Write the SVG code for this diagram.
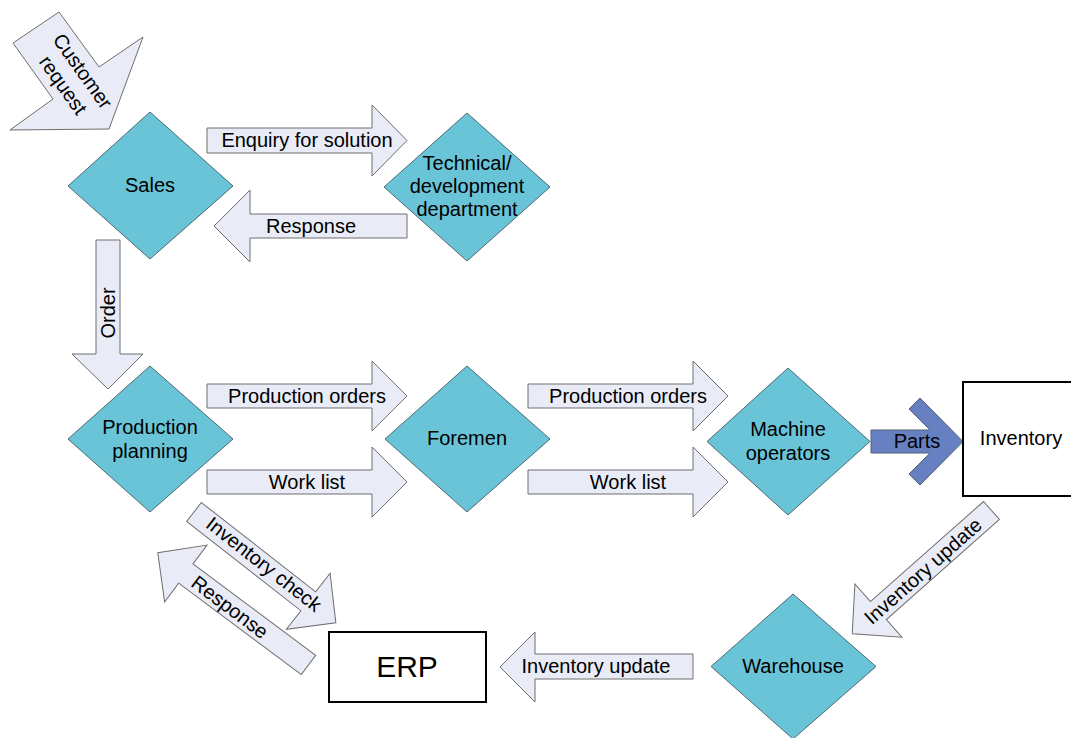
<svg xmlns="http://www.w3.org/2000/svg" width="1071" height="738" viewBox="0 0 1071 738">
  <style>
    .dia { fill: #6ac4d8; stroke: #4e6a72; stroke-width: 1; }
    .box { fill: #ffffff; stroke: #000000; stroke-width: 2; }
    .arr { fill: #e9ecf6; stroke: #6e6e6e; stroke-width: 1; }
    .parts { fill: #6680c2; stroke: #55607a; stroke-width: 1; }
    text { font-family: "Liberation Sans", Arial, sans-serif; font-size: 20px; fill: #000; text-anchor: middle; }
    .big { font-size: 30px; }
  </style>
  <defs>
    <!-- straight block arrow along +x, back end at origin -->
    <polygon id="arrow186" points="0,-12 151,-12 151,-35.5 186,0 151,35.5 151,12 0,12"/>
    <polygon id="arrow180" points="0,-12 145,-12 145,-35.5 180,0 145,35.5 145,12 0,12"/>
    <polygon id="arrow188" points="0,-12 153,-12 153,-35.5 188,0 153,35.5 153,12 0,12"/>
  </defs>
  <rect width="1071" height="738" fill="#ffffff"/>

  <g id="connectors">
    <!-- incoming customer request -->
    <g id="arrow-customer-request">
      <polygon class="arr" points="59,12 13,43 53,99 10,130 109,129 143,37 99,67"/>
      <g transform="translate(73,78) rotate(54.5)">
        <text x="0" y="-12" dy="0.35em">Customer</text>
        <text x="0" y="12" dy="0.35em">request</text>
      </g>
    </g>
    <g id="arrow-enquiry">
      <polygon class="arr" points="207,128 372,128 372,105 407,140.5 372,176 372,153 207,153"/>
      <text x="307" y="140" dy="0.35em">Enquiry for solution</text>
    </g>
    <g id="arrow-response-tech">
      <polygon class="arr" points="407,214 250,214 250,190 214,226 250,262 250,238 407,238"/>
      <text x="311" y="226" dy="0.35em">Response</text>
    </g>
    <g id="arrow-order">
      <polygon class="arr" points="96,240 120,240 120,354 143,354 108,389 72,354 96,354"/>
      <text transform="translate(108,313) rotate(-90)" dy="0.35em">Order</text>
    </g>
    <g id="arrow-prod-orders-1">
      <polygon class="arr" points="207,384 372,384 372,361 407,396 372,431 372,408 207,408"/>
      <text x="307" y="396" dy="0.35em">Production orders</text>
    </g>
    <g id="arrow-work-list-1">
      <polygon class="arr" points="207,470 372,470 372,447 407,482 372,517 372,494 207,494"/>
      <text x="307" y="482" dy="0.35em">Work list</text>
    </g>
    <g id="arrow-prod-orders-2">
      <polygon class="arr" points="528,384 693,384 693,361 728,396 693,431 693,408 528,408"/>
      <text x="628" y="396" dy="0.35em">Production orders</text>
    </g>
    <g id="arrow-work-list-2">
      <polygon class="arr" points="528,470 693,470 693,447 728,482 693,517 693,494 528,494"/>
      <text x="628" y="482" dy="0.35em">Work list</text>
    </g>
    <g id="arrow-parts">
      <polygon class="parts" points="871,430 930,430 909,409 920,398 963,441.5 920,485 909,474 930,453 871,453"/>
      <text x="917" y="441" dy="0.35em">Parts</text>
    </g>
    <g id="arrow-inventory-update-diag">
      <use href="#arrow186" class="arr" transform="translate(991.5,510.5) rotate(138.5)"/>
      <text transform="translate(923,571) rotate(-41.5)" dy="0.35em">Inventory update</text>
    </g>
    <g id="arrow-inventory-update-erp">
      <polygon class="arr" points="693,654 535,654 535,632 500,667 535,702 535,679 693,679"/>
      <text x="596" y="666" dy="0.35em">Inventory update</text>
    </g>
    <g id="arrow-inventory-check">
      <use href="#arrow180" class="arr" transform="translate(194,512) rotate(38)"/>
      <text transform="translate(264,564) rotate(38)" dy="0.35em">Inventory check</text>
    </g>
    <g id="arrow-response-erp">
      <use href="#arrow188" class="arr" transform="translate(308.5,665) rotate(216.7)"/>
      <text transform="translate(230,607) rotate(37)" dy="0.35em">Response</text>
    </g>
  </g>

  <g id="node-sales">
    <polygon class="dia" points="150,112 233,186 150,259 68,186"/>
    <text x="150" y="185" dy="0.35em">Sales</text>
  </g>
  <g id="node-technical">
    <polygon class="dia" points="467,113 550,187 467,261 384,187"/>
    <text x="467" y="163" dy="0.35em">Technical/</text>
    <text x="467" y="186" dy="0.35em">development</text>
    <text x="467" y="209" dy="0.35em">department</text>
  </g>
  <g id="node-production-planning">
    <polygon class="dia" points="150,366 233,439 150,512 68,439"/>
    <text x="150" y="427" dy="0.35em">Production</text>
    <text x="150" y="451" dy="0.35em">planning</text>
  </g>
  <g id="node-foremen">
    <polygon class="dia" points="467,366 550,439 467,512 385,439"/>
    <text x="467" y="438" dy="0.35em">Foremen</text>
  </g>
  <g id="node-machine-operators">
    <polygon class="dia" points="788,368 870,441.5 788,515 707,441.5"/>
    <text x="788" y="429" dy="0.35em">Machine</text>
    <text x="788" y="453" dy="0.35em">operators</text>
  </g>
  <g id="node-inventory">
    <rect class="box" x="963" y="382" width="112" height="114"/>
    <text x="1021" y="438" dy="0.35em">Inventory</text>
  </g>
  <g id="node-warehouse">
    <polygon class="dia" points="793,594 876,666.5 793,739 711,666.5"/>
    <text x="793" y="666" dy="0.35em">Warehouse</text>
  </g>
  <g id="node-erp">
    <rect class="box" x="329" y="632" width="157" height="70"/>
    <text class="big" x="407" y="666" dy="0.35em">ERP</text>
  </g>
</svg>
